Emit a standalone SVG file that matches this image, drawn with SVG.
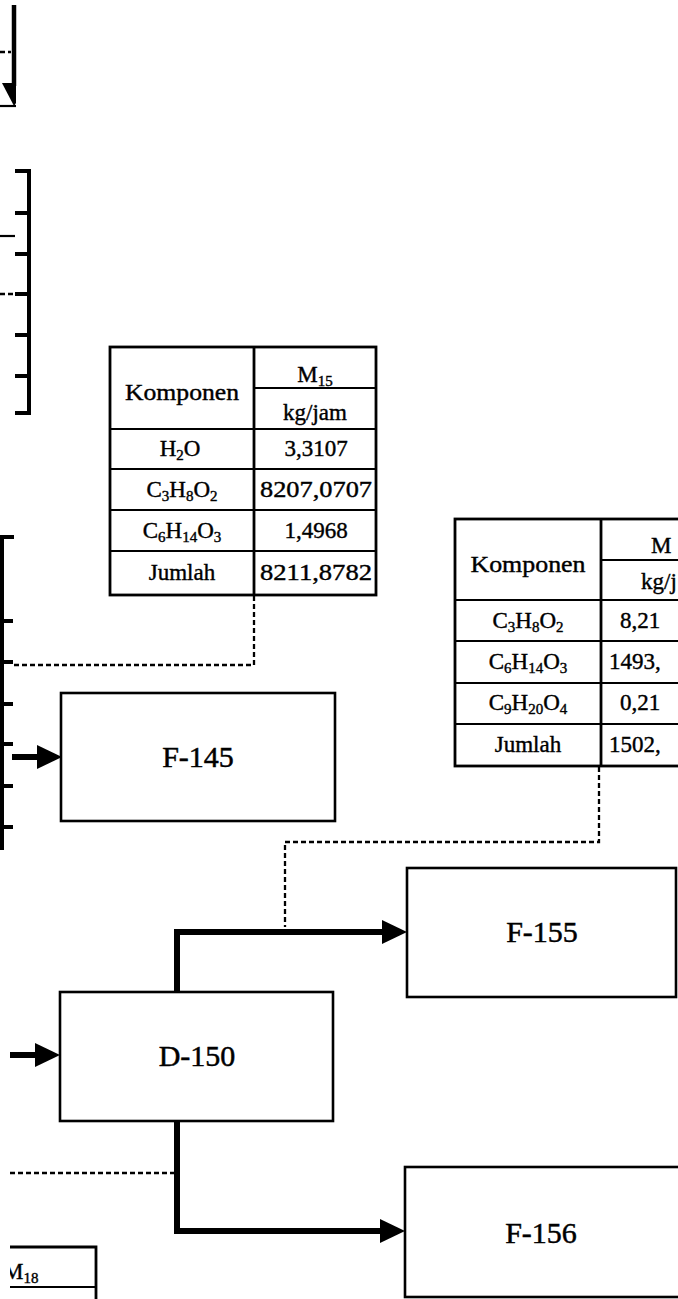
<svg xmlns="http://www.w3.org/2000/svg" width="678" height="1299" viewBox="0 0 678 1299">
<style>
.box{fill:#fff;stroke:#000;stroke-width:2.6}
.tb{fill:none;stroke:#000;stroke-width:2.8}
.tl{stroke:#000;stroke-width:2.2}
.thick{fill:none;stroke:#000;stroke-width:6;stroke-linejoin:miter}
.br{fill:none;stroke:#000;stroke-width:4}
.dash{fill:none;stroke:#000;stroke-width:2.3;stroke-dasharray:5 3}
.lbl{font-family:"Liberation Serif","Times New Roman",serif;font-size:30px;text-anchor:middle;fill:#000;stroke:#000;stroke-width:0.5}
.t{font-family:"Liberation Serif","Times New Roman",serif;font-size:23px;text-anchor:middle;fill:#000;stroke:#000;stroke-width:0.4}
.ts{font-family:"Liberation Serif","Times New Roman",serif;font-size:23px;text-anchor:start;fill:#000;stroke:#000;stroke-width:0.4}
.s{font-size:15px}
</style>
<defs>
<marker id="ah" markerUnits="userSpaceOnUse" markerWidth="25" markerHeight="24" refX="0" refY="12" orient="auto"><path d="M0,0 L25,12 L0,24 z" fill="#000"/></marker>
<clipPath id="clipM18"><rect x="10" y="1240" width="100" height="60"/></clipPath>
</defs>

<g id="left-edge">
<line class="dash" x1="0" y1="52" x2="11" y2="52"/>
<line x1="14" y1="5" x2="14" y2="86" stroke="#000" stroke-width="4.5"/>
<polygon points="2,83 16,83 16,103 14,106" fill="#000"/>
<line class="tl" x1="0" y1="106" x2="16" y2="106"/>
<path class="br" d="M15,171 H29 V413 H15"/>
<g class="br"><line x1="15" y1="213" x2="29" y2="213"/><line x1="15" y1="254" x2="29" y2="254"/><line x1="15" y1="294" x2="29" y2="294"/><line x1="15" y1="335" x2="29" y2="335"/><line x1="15" y1="376" x2="29" y2="376"/></g>
<line class="tl" x1="0" y1="236" x2="15" y2="236"/>
<line class="dash" x1="0" y1="294" x2="26" y2="294"/>
<path class="br" d="M14,537 H2 V850"/>
<g class="br"><line x1="2" y1="621" x2="13" y2="621"/><line x1="2" y1="662" x2="13" y2="662"/><line x1="2" y1="704" x2="13" y2="704"/><line x1="2" y1="744" x2="13" y2="744"/><line x1="2" y1="786" x2="13" y2="786"/><line x1="2" y1="827" x2="13" y2="827"/></g>
</g>

<g id="connectors">
<path class="dash" d="M254,596 V665 H14"/>
<path class="dash" d="M599,767 V842 H285 V927"/>
<line class="thick" x1="12" y1="757" x2="37" y2="757" marker-end="url(#ah)"/>
<line class="thick" x1="10" y1="1055" x2="35" y2="1055" marker-end="url(#ah)"/>
<path class="thick" d="M177,991 V932 H382" marker-end="url(#ah)"/>
<path class="thick" d="M177,1121 V1231 H380" marker-end="url(#ah)"/>
<line class="dash" x1="10" y1="1173" x2="175" y2="1173"/>
</g>

<g id="table-M15">
<rect class="tb" x="110" y="347" width="266" height="248"/>
<line class="tb" x1="254" y1="347" x2="254" y2="595"/>
<line class="tl" x1="254" y1="388" x2="376" y2="388"/>
<line class="tl" x1="110" y1="429" x2="376" y2="429"/>
<line class="tl" x1="110" y1="469" x2="376" y2="469"/>
<line class="tl" x1="110" y1="510" x2="376" y2="510"/>
<line class="tl" x1="110" y1="551" x2="376" y2="551"/>
<text class="t" x="182" y="400" textLength="114" lengthAdjust="spacingAndGlyphs">Komponen</text>
<text class="t" x="315" y="382">M<tspan class="s" dy="4">15</tspan></text>
<text class="t" x="315" y="420">kg/jam</text>
<text class="t" x="180" y="456">H<tspan class="s" dy="4">2</tspan><tspan dy="-4">O</tspan></text>
<text class="t" x="316" y="456">3,3107</text>
<text class="t" x="182" y="497">C<tspan class="s" dy="4">3</tspan><tspan dy="-4">H</tspan><tspan class="s" dy="4">8</tspan><tspan dy="-4">O</tspan><tspan class="s" dy="4">2</tspan></text>
<text class="t" x="316" y="497" textLength="112" lengthAdjust="spacingAndGlyphs">8207,0707</text>
<text class="t" x="182" y="538">C<tspan class="s" dy="4">6</tspan><tspan dy="-4">H</tspan><tspan class="s" dy="4">14</tspan><tspan dy="-4">O</tspan><tspan class="s" dy="4">3</tspan></text>
<text class="t" x="316" y="538">1,4968</text>
<text class="t" x="182" y="580">Jumlah</text>
<text class="t" x="316" y="580" textLength="112" lengthAdjust="spacingAndGlyphs">8211,8782</text>
</g>

<g id="table-M16">
<rect class="tb" x="455" y="519" width="290" height="247"/>
<line class="tb" x1="601" y1="519" x2="601" y2="766"/>
<line class="tl" x1="601" y1="560" x2="745" y2="560"/>
<line class="tl" x1="455" y1="600" x2="745" y2="600"/>
<line class="tl" x1="455" y1="641" x2="745" y2="641"/>
<line class="tl" x1="455" y1="683" x2="745" y2="683"/>
<line class="tl" x1="455" y1="724" x2="745" y2="724"/>
<text class="t" x="528" y="572" textLength="115" lengthAdjust="spacingAndGlyphs">Komponen</text>
<text class="ts" x="651" y="553">M</text>
<text class="ts" x="641" y="589">kg/j</text>
<text class="t" x="528" y="628">C<tspan class="s" dy="4">3</tspan><tspan dy="-4">H</tspan><tspan class="s" dy="4">8</tspan><tspan dy="-4">O</tspan><tspan class="s" dy="4">2</tspan></text>
<text class="ts" x="620" y="628">8,21</text>
<text class="t" x="528" y="669">C<tspan class="s" dy="4">6</tspan><tspan dy="-4">H</tspan><tspan class="s" dy="4">14</tspan><tspan dy="-4">O</tspan><tspan class="s" dy="4">3</tspan></text>
<text class="ts" x="609" y="669">1493,</text>
<text class="t" x="528" y="710">C<tspan class="s" dy="4">9</tspan><tspan dy="-4">H</tspan><tspan class="s" dy="4">20</tspan><tspan dy="-4">O</tspan><tspan class="s" dy="4">4</tspan></text>
<text class="ts" x="620" y="710">0,21</text>
<text class="t" x="528" y="752">Jumlah</text>
<text class="ts" x="609" y="752">1502,</text>
</g>

<g id="F-145">
<rect class="box" x="61" y="693" width="274" height="128"/>
<text class="lbl" x="198" y="767">F-145</text>
</g>

<g id="F-155">
<rect class="box" x="407" y="868" width="269" height="129"/>
<text class="lbl" x="542" y="942">F-155</text>
</g>

<g id="D-150">
<rect class="box" x="60" y="992" width="273" height="129"/>
<text class="lbl" x="197" y="1066">D-150</text>
</g>

<g id="F-156">
<rect class="box" x="405" y="1167" width="285" height="130"/>
<text class="lbl" x="541" y="1243">F-156</text>
</g>

<g id="table-M18">
<path class="tb" d="M10,1247 H96 V1299"/>
<line class="tl" x1="10" y1="1287" x2="96" y2="1287"/>
<text class="ts" x="3" y="1279" clip-path="url(#clipM18)">M<tspan class="s" dy="4">18</tspan></text>
</g>
</svg>
